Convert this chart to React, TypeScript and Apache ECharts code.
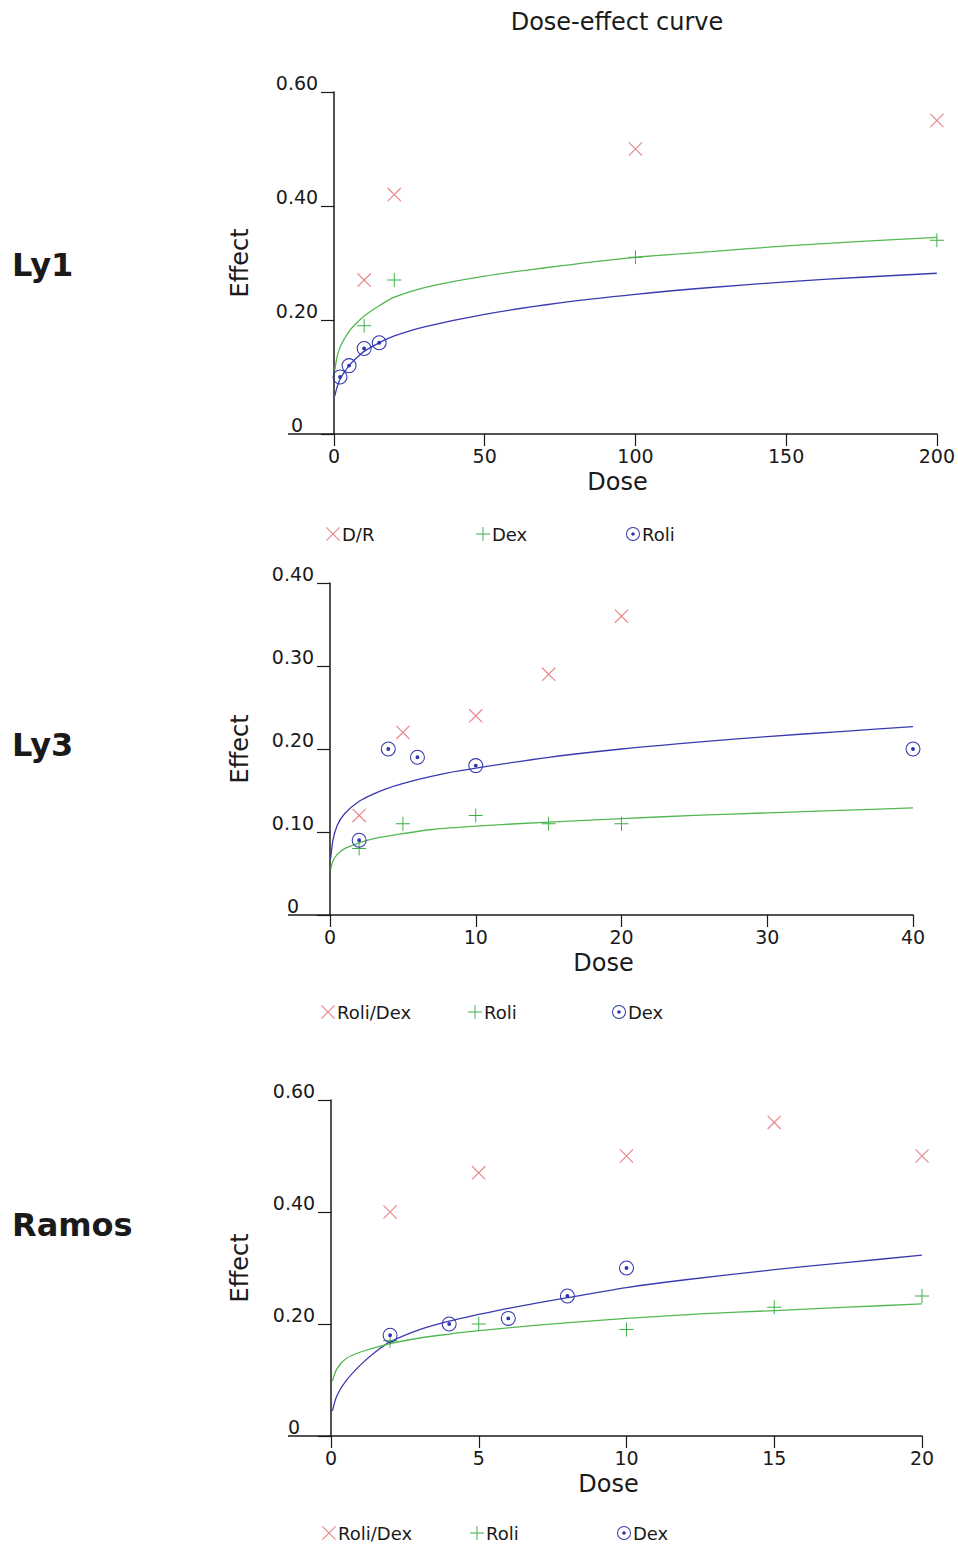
import React, { useEffect, useRef } from 'react';
import * as echarts from 'echarts';

const FONT = '"DejaVu Sans", sans-serif';

// ---------- Ly1 ----------
const ly1DoseDR = [10, 20, 100, 200];
const ly1EffectDR = [0.27, 0.42, 0.5, 0.55];
const ly1DoseDex = [10, 20, 100, 200];
const ly1EffectDex = [0.19, 0.27, 0.31, 0.34];
const ly1DoseRoli = [2, 5, 10, 15];
const ly1EffectRoli = [0.1, 0.12, 0.15, 0.16];
const ly1CurveDexDose = [0.3, 0.5, 1, 2, 3, 5, 7, 10, 15, 20, 30, 50, 75, 100, 125, 150, 175, 200];
const ly1CurveDexEffect = [0.112, 0.12, 0.135, 0.152, 0.163, 0.18, 0.192, 0.207, 0.225, 0.24, 0.257, 0.277, 0.295, 0.31, 0.32, 0.33, 0.338, 0.345];
const ly1CurveRoliDose = [0.3, 0.5, 1, 2, 3, 5, 7, 10, 15, 20, 30, 50, 75, 100, 125, 150, 175, 200];
const ly1CurveRoliEffect = [0.067, 0.072, 0.082, 0.096, 0.105, 0.12, 0.131, 0.145, 0.16, 0.172, 0.188, 0.21, 0.23, 0.245, 0.257, 0.267, 0.275, 0.282];

// ---------- Ly3 ----------
const ly3DoseRD = [2, 5, 10, 15, 20];
const ly3EffectRD = [0.12, 0.22, 0.24, 0.29, 0.36];
const ly3DoseRoli = [2, 5, 10, 15, 20];
const ly3EffectRoli = [0.08, 0.11, 0.12, 0.11, 0.11];
const ly3DoseDex = [2, 4, 6, 10, 40];
const ly3EffectDex = [0.09, 0.2, 0.19, 0.18, 0.2];
const ly3CurveDexDose = [0.05, 0.2, 0.5, 1, 2, 3, 4, 6, 8, 10, 15, 20, 25, 30, 35, 40];
const ly3CurveDexEffect = [0.068, 0.09, 0.108, 0.122, 0.137, 0.146, 0.153, 0.163, 0.171, 0.177, 0.19, 0.2, 0.208, 0.215, 0.221, 0.227];
const ly3CurveRoliDose = [0.05, 0.2, 0.5, 1, 2, 3, 5, 7, 10, 15, 20, 25, 30, 35, 40];
const ly3CurveRoliEffect = [0.055, 0.065, 0.073, 0.08, 0.087, 0.092, 0.098, 0.103, 0.107, 0.112, 0.116, 0.12, 0.123, 0.126, 0.129];

// ---------- Ramos ----------
const raDoseRD = [2, 5, 10, 15, 20];
const raEffectRD = [0.4, 0.47, 0.5, 0.56, 0.5];
const raDoseRoli = [2, 5, 10, 15, 20];
const raEffectRoli = [0.17, 0.2, 0.19, 0.23, 0.25];
const raDoseDex = [2, 4, 6, 8, 10];
const raEffectDex = [0.18, 0.2, 0.21, 0.25, 0.3];
const raCurveDexDose = [0.05, 0.2, 0.5, 1, 1.5, 2, 3, 4, 5, 6, 8, 10, 12, 15, 17.5, 20];
const raCurveDexEffect = [0.045, 0.072, 0.098, 0.127, 0.15, 0.168, 0.19, 0.205, 0.217, 0.228, 0.247, 0.265, 0.279, 0.297, 0.31, 0.323];
const raCurveRoliDose = [0.05, 0.2, 0.5, 1, 2, 3, 4, 5, 7, 10, 12.5, 15, 17.5, 20];
const raCurveRoliEffect = [0.098, 0.12, 0.138, 0.15, 0.165, 0.175, 0.182, 0.188, 0.198, 0.21, 0.218, 0.224, 0.23, 0.236];

const rowLabels = ['Ly1', 'Ly3', 'Ramos'];
const titleText = 'Dose-effect curve';

const RED = '#e8878a';
const GREEN = '#3fae49';
const BLUE = '#2f36a8';
const GREEN_LINE = '#52b852';
const BLUE_LINE = '#3a3ab0';
const AXIS = '#1a1a1a';

const SYM_X = 'path://M-8.8,-10L10,8.8L8.8,10L-10,-8.8Z M8.8,-10L10,-8.8L-8.8,10L-10,8.8Z';
const SYM_PLUS = 'path://M-10,-0.7H10V0.7H-10Z M-0.7,-10H0.7V10H-0.7Z';
const SYM_CIRC =
  'path://M0,-10A10,10,0,1,1,0,10A10,10,0,1,1,0,-10Z M0,-8.6A8.6,8.6,0,1,0,0,8.6A8.6,8.6,0,1,0,0,-8.6Z M0,-2.6A2.6,2.6,0,1,1,0,2.6A2.6,2.6,0,1,1,0,-2.6Z';

function pts(xs: number[], ys: number[]) {
  return xs.map((x, i) => [x, ys[i]]);
}

const grids = [
  { left: 334, top: 92, width: 603, height: 342 },
  { left: 330, top: 583, width: 583, height: 332 },
  { left: 331, top: 1100, width: 591, height: 336 },
];
const xRanges = [
  { max: 200, interval: 50 },
  { max: 40, interval: 10 },
  { max: 20, interval: 5 },
];
const yRanges = [
  { max: 0.6, interval: 0.2 },
  { max: 0.4, interval: 0.1 },
  { max: 0.6, interval: 0.2 },
];
const yNameGaps = [82, 78, 79];
const legendTops = [525, 1003, 1524];
const legendLefts = [
  [326, 476, 626],
  [321, 468, 612],
  [322, 470, 617],
];
const rowLabelY = [265, 745, 1225];

function scatter(name: string, idx: number, data: number[][], symbol: string, color: string, size: number) {
  return {
    name,
    type: 'scatter',
    xAxisIndex: idx,
    yAxisIndex: idx,
    data,
    symbol,
    symbolSize: size,
    itemStyle: { color, borderWidth: 0, opacity: 1 },
    z: 4,
    silent: true,
  };
}

function curve(idx: number, data: number[][], color: string) {
  return {
    type: 'line',
    xAxisIndex: idx,
    yAxisIndex: idx,
    data,
    showSymbol: false,
    symbol: 'none',
    smooth: 0.3,
    lineStyle: { color, width: 1.3 },
    z: 2,
    silent: true,
  };
}

export default function App() {
  const ref = useRef<HTMLDivElement>(null);

  useEffect(() => {
    if (!ref.current) return;
    const chart = echarts.init(ref.current, undefined, { renderer: 'svg' });

    const panelLegends = [
      ['Ly1|D/R', 'Ly1|Dex', 'Ly1|Roli'],
      ['Ly3|Roli/Dex', 'Ly3|Roli', 'Ly3|Dex'],
      ['Ramos|Roli/Dex', 'Ramos|Roli', 'Ramos|Dex'],
    ];

    const series: any[] = [
      curve(0, pts(ly1CurveDexDose, ly1CurveDexEffect), GREEN_LINE),
      curve(0, pts(ly1CurveRoliDose, ly1CurveRoliEffect), BLUE_LINE),
      scatter('Ly1|D/R', 0, pts(ly1DoseDR, ly1EffectDR), SYM_X, RED, 14),
      scatter('Ly1|Dex', 0, pts(ly1DoseDex, ly1EffectDex), SYM_PLUS, GREEN, 14),
      scatter('Ly1|Roli', 0, pts(ly1DoseRoli, ly1EffectRoli), SYM_CIRC, BLUE, 15),

      curve(1, pts(ly3CurveDexDose, ly3CurveDexEffect), BLUE_LINE),
      curve(1, pts(ly3CurveRoliDose, ly3CurveRoliEffect), GREEN_LINE),
      scatter('Ly3|Roli/Dex', 1, pts(ly3DoseRD, ly3EffectRD), SYM_X, RED, 14),
      scatter('Ly3|Roli', 1, pts(ly3DoseRoli, ly3EffectRoli), SYM_PLUS, GREEN, 14),
      scatter('Ly3|Dex', 1, pts(ly3DoseDex, ly3EffectDex), SYM_CIRC, BLUE, 15),

      curve(2, pts(raCurveDexDose, raCurveDexEffect), BLUE_LINE),
      curve(2, pts(raCurveRoliDose, raCurveRoliEffect), GREEN_LINE),
      scatter('Ramos|Roli/Dex', 2, pts(raDoseRD, raEffectRD), SYM_X, RED, 14),
      scatter('Ramos|Roli', 2, pts(raDoseRoli, raEffectRoli), SYM_PLUS, GREEN, 14),
      scatter('Ramos|Dex', 2, pts(raDoseDex, raEffectDex), SYM_CIRC, BLUE, 15),
    ];

    const legends: any[] = [];
    panelLegends.forEach((names, p) => {
      names.forEach((n, k) => {
        legends.push({
          data: [n],
          left: legendLefts[p][k],
          top: legendTops[p],
          orient: 'horizontal',
          itemWidth: 14,
          itemHeight: 14,
          selectedMode: false,
          padding: 0,
          formatter: (name: string) => name.split('|')[1],
          textStyle: { fontFamily: FONT, fontSize: 18, color: '#1a1a1a', padding: [0, 0, 0, -3] },
        });
      });
    });

    const xAxes = grids.map((g, i) => ({
      gridIndex: i,
      type: 'value',
      min: 0,
      max: xRanges[i].max,
      interval: xRanges[i].interval,
      name: 'Dose',
      nameLocation: 'middle',
      nameGap: 36,
      nameTextStyle: { fontFamily: FONT, fontSize: 24, color: '#1a1a1a', padding: [0, 36, 0, 0] },
      axisLine: { show: true, onZero: false, lineStyle: { color: AXIS, width: 1.5 } },
      axisTick: { show: true, length: 12, lineStyle: { color: AXIS, width: 1.2 } },
      axisLabel: { fontFamily: FONT, fontSize: 19, color: '#1a1a1a', margin: 12, showMinLabel: true, showMaxLabel: true },
      splitLine: { show: false },
    }));

    const yAxes = grids.map((g, i) => ({
      gridIndex: i,
      type: 'value',
      min: 0,
      max: yRanges[i].max,
      interval: yRanges[i].interval,
      name: 'Effect',
      nameLocation: 'middle',
      nameGap: yNameGaps[i],
      nameTextStyle: { fontFamily: FONT, fontSize: 24, color: '#1a1a1a' },
      axisLine: { show: true, onZero: false, lineStyle: { color: AXIS, width: 1.5 } },
      axisTick: { show: true, length: 13, lineStyle: { color: AXIS, width: 1.2 } },
      axisLabel: {
        fontFamily: FONT,
        fontSize: 19,
        color: '#1a1a1a',
        margin: 37,
        align: 'center',
        verticalAlign: 'bottom',
        showMinLabel: true,
        showMaxLabel: true,
        formatter: (v: number) => (v === 0 ? '0' : v.toFixed(2)),
      },
      splitLine: { show: false },
    }));

    const graphics: any[] = [
      {
        type: 'text',
        x: 617,
        y: 22,
        style: { text: titleText, font: `24px ${FONT}`, fill: '#1a1a1a', textAlign: 'center', textVerticalAlign: 'middle' },
      },
    ];
    rowLabels.forEach((t, i) => {
      graphics.push({
        type: 'text',
        x: 12,
        y: rowLabelY[i],
        style: { text: t, font: `bold 32px ${FONT}`, fill: '#1a1a1a', textAlign: 'left', textVerticalAlign: 'middle' },
      });
    });
    grids.forEach((g) => {
      const yb = g.top + g.height;
      graphics.push({
        type: 'line',
        shape: { x1: 288, y1: yb, x2: g.left, y2: yb },
        style: { stroke: AXIS, lineWidth: 1.5 },
      });
    });

    chart.setOption({
      animation: false,
      backgroundColor: '#ffffff',
      grid: grids,
      xAxis: xAxes,
      yAxis: yAxes,
      legend: legends,
      series,
      graphic: graphics,
    });

    return () => chart.dispose();
  }, []);

  return <div ref={ref} style={{ position: 'absolute', left: 0, top: 0, width: 958, height: 1545 }} />;
}
